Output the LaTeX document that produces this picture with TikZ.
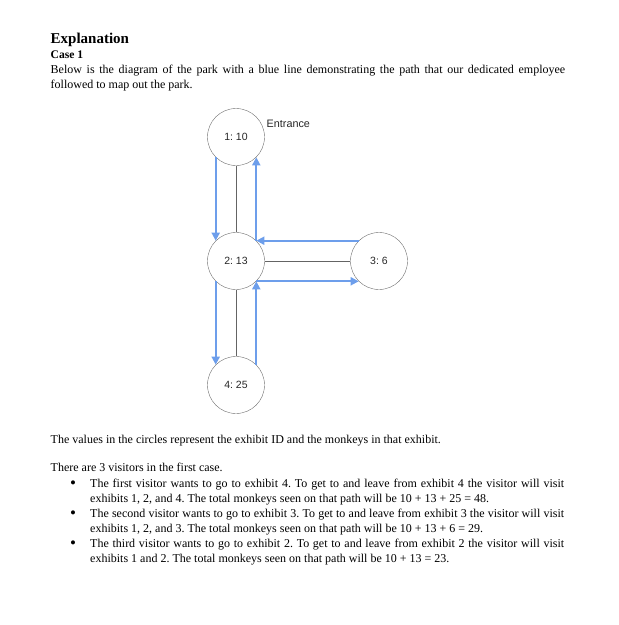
\documentclass[tikz,border=0pt]{standalone}
\usepackage{fontspec}
\setmainfont{Liberation Serif}
\newfontfamily\diagfont{Liberation Sans}
\usetikzlibrary{arrows.meta,positioning}
\definecolor{pathblue}{RGB}{109,158,235}
\definecolor{linegray}{RGB}{100,100,100}
\definecolor{ringgray}{RGB}{110,110,110}
\frenchspacing

\begin{document}
\begin{tikzpicture}[x=1pt, y=-1pt,
  exhibit/.style={draw=ringgray, circle, minimum size=57pt, inner sep=0pt,
                  font=\diagfont\fontsize{10.5}{12}\selectfont, text=black!85},
  walk/.style={draw=linegray, line width=0.8pt},
  trail/.style={draw=pathblue, line width=1.8pt, -{Triangle[length=8pt,width=8pt]}},
  body/.style={anchor=base west, inner sep=0pt, font=\fontsize{12}{15}\selectfont},
  para/.style={body, align=justify},
  dot/.style={anchor=base, inner sep=0pt, font=\fontsize{17}{15}\selectfont}
]
\useasboundingbox (0,0) rectangle (619,625);

% heading
\node[body, font=\bfseries\fontsize{15}{18}\selectfont] (title) at (50.5,43.3) {Explanation};
\node[body, font=\bfseries\fontsize{11.6}{14}\selectfont] (case) at (50.5,58) {Case 1};
\node[para, text width=514.5pt] (intro) at (50.5,73.3)
  {Below is the diagram of the park with a blue line demonstrating the path that our dedicated employee\linebreak
   followed to map out the park.};

% park map
\node[exhibit] (n1) at (236,137) {1: 10};
\node[exhibit] (n2) at (236,261) {2: 13};
\node[exhibit] (n3) at (379,261) {3: 6};
\node[exhibit] (n4) at (236,385) {4: 25};
\node[anchor=base west, inner sep=0pt, font=\diagfont\fontsize{10.8}{12}\selectfont, text=black!85]
  (entr) at (266.5,127.5) {Entrance};

\draw[walk] (n1) -- (n2);
\draw[walk] (n2) -- (n3);
\draw[walk] (n2) -- (n4);

% employee path
\draw[trail] (n1.225) -- (n2.135);
\draw[trail] (n2.225) -- (n4.135);
\draw[trail] (n4.45) -- (n2.315);
\draw[trail] (n2.315) -- (n3.225);
\draw[trail] (n3.135) -- (n2.45);
\draw[trail] (n2.45) -- (n1.315);

% notes
\node[body] (legend) at (50.5,443) {The values in the circles represent the exhibit ID and the monkeys in that exhibit.};
\node[body] (count) at (50.5,471.7) {There are 3 visitors in the first case.};

\node[dot] (b1) at (73,488.5) {\textbullet};
\node[para, text width=474pt] (v1) at (90,487.5)
  {The first visitor wants to go to exhibit 4. To get to and leave from exhibit 4 the visitor will visit\linebreak
   exhibits 1, 2, and 4. The total monkeys seen on that path will be 10 + 13 + 25 = 48.};
\node[dot] (b2) at (73,518.5) {\textbullet};
\node[para, text width=474pt] (v2) at (90,517.5)
  {The second visitor wants to go to exhibit 3. To get to and leave from exhibit 3 the visitor will visit\linebreak
   exhibits 1, 2, and 3. The total monkeys seen on that path will be 10 + 13 + 6 = 29.};
\node[dot] (b3) at (73,548.5) {\textbullet};
\node[para, text width=474pt] (v3) at (90,547.5)
  {The third visitor wants to go to exhibit 2. To get to and leave from exhibit 2 the visitor will visit\linebreak
   exhibits 1 and 2. The total monkeys seen on that path will be 10 + 13 = 23.};
\end{tikzpicture}
\end{document}
